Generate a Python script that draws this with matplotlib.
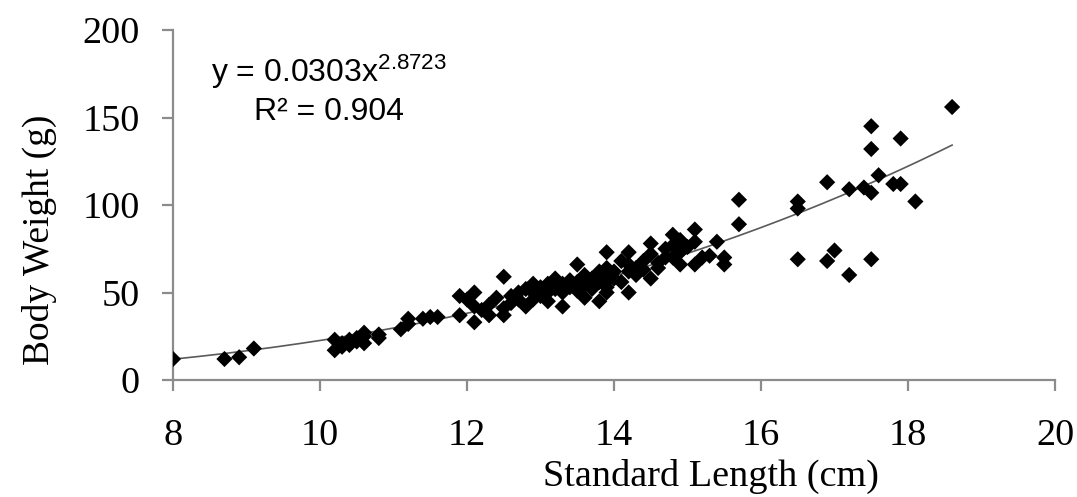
import numpy as np
import matplotlib
matplotlib.use("Agg")
import matplotlib.pyplot as plt

plt.rcParams['mathtext.fontset'] = 'custom'
plt.rcParams['mathtext.rm'] = 'Liberation Sans'
plt.rcParams['mathtext.it'] = 'Liberation Sans:italic'

# Standard length (cm) and body weight (g) of each fish
length_cm = [
    8.0, 8.7, 8.9, 9.1,
    10.2, 10.2, 10.3, 10.3, 10.4, 10.4, 10.5, 10.5, 10.6, 10.6, 10.6, 10.8, 10.8,
    11.1, 11.2, 11.2, 11.4, 11.5, 11.6, 11.9, 11.9,
    12.0, 12.1, 12.1, 12.1, 12.2, 12.3, 12.3, 12.4, 12.5, 12.5, 12.5, 12.6, 12.6,
    12.7, 12.7, 12.8, 12.8, 12.9, 12.9, 12.9,
    13.0, 13.0, 13.1, 13.1, 13.1, 13.2, 13.2, 13.3, 13.3, 13.3, 13.4, 13.4,
    13.5, 13.5, 13.5, 13.6, 13.6, 13.6, 13.7, 13.7, 13.8, 13.8, 13.8,
    13.9, 13.9, 13.9, 13.9, 13.9, 13.9,
    14.0, 14.0, 14.1, 14.1, 14.2, 14.2, 14.2, 14.2, 14.3, 14.3, 14.4, 14.4,
    14.5, 14.5, 14.5, 14.6, 14.6, 14.7, 14.7, 14.8, 14.8, 14.8, 14.9, 14.9, 14.9,
    15.0, 15.1, 15.1, 15.1, 15.2, 15.3, 15.4, 15.5, 15.5, 15.7, 15.7,
    16.5, 16.5, 16.5, 16.9, 16.9, 17.0, 17.2, 17.2, 17.4,
    17.5, 17.5, 17.5, 17.5, 17.6, 17.8, 17.9, 17.9, 18.1, 18.6,
]
weight_g = [
    12, 12, 13, 18,
    23, 17, 19, 21, 20, 23, 22, 24, 21, 25, 27, 24, 26,
    29, 32, 35, 35, 36, 36, 37, 48,
    46, 50, 33, 42, 40, 37, 43, 47, 59, 37, 41, 44, 48,
    50, 46, 42, 52, 55, 46, 50,
    53, 48, 55, 50, 45, 58, 52, 42, 55, 50, 53, 57,
    66, 56, 51, 47, 60, 54, 58, 52, 45, 62, 56,
    73, 64, 60, 57, 53, 50,
    62, 58, 68, 56, 73, 66, 50, 62, 64, 60, 68, 63,
    78, 58, 72, 67, 64, 75, 70, 83, 70, 77, 80, 73, 66,
    76, 86, 79, 66, 70, 71, 79, 70, 66, 103, 89,
    102, 98, 69, 113, 68, 74, 109, 60, 110,
    145, 132, 107, 69, 117, 112, 112, 138, 102, 156,
]

# Power-law fit  W = a * L^b
fit_a = 0.0303
fit_b = 2.8723
fit_r2 = 0.904

x_ticks = [8, 10, 12, 14, 16, 18, 20]
y_ticks = [0, 50, 100, 150, 200]

fig = plt.figure(figsize=(10.77, 4.97), dpi=100)
ax = fig.add_axes([173 / 1077, 117 / 497, 882 / 1077, 350 / 497])

ax.scatter(length_cm, weight_g, marker='D', s=68, color='black',
           edgecolors='none', zorder=3)

xf = np.linspace(min(length_cm), max(length_cm), 300)
ax.plot(xf, fit_a * xf ** fit_b, color='#5a5a5a', lw=1.2, zorder=2)

ax.set_xlim(8, 20)
ax.set_ylim(0, 200)
ax.set_xticks(x_ticks)
ax.set_yticks(y_ticks)

serif = 'Liberation Serif'
for lab in ax.get_xticklabels() + ax.get_yticklabels():
    lab.set_fontfamily(serif)
    lab.set_fontsize(27.5)

for side in ('top', 'right'):
    ax.spines[side].set_visible(False)
for side in ('left', 'bottom'):
    ax.spines[side].set_color('#8c8c8c')
    ax.spines[side].set_linewidth(1.6)

ax.tick_params(axis='both', direction='out', length=8, width=1.6,
               color='#8c8c8c', labelcolor='black')
ax.tick_params(axis='x', pad=20)
ax.tick_params(axis='y', pad=16)

ax.set_xlabel('Standard Length (cm)', fontfamily=serif, fontsize=27.5)
ax.xaxis.set_label_coords(0.61, -0.225)
ax.set_ylabel('Body Weight (g)', fontfamily=serif, fontsize=27)
ax.yaxis.set_label_coords(-0.132, 0.40)

# Fit equation and coefficient of determination, two centred lines
ax.text(10.12, 170.5, r'y = %.4fx$^{\mathrm{%.4f}}$' % (fit_a, fit_b),
        fontfamily='Liberation Sans', fontsize=23, ha='center', va='baseline')
ax.text(10.12, 148.5, 'R² = %.3f' % fit_r2,
        fontfamily='Liberation Sans', fontsize=23, ha='center', va='baseline')

fig.savefig('out.png', dpi=100, facecolor='white')
